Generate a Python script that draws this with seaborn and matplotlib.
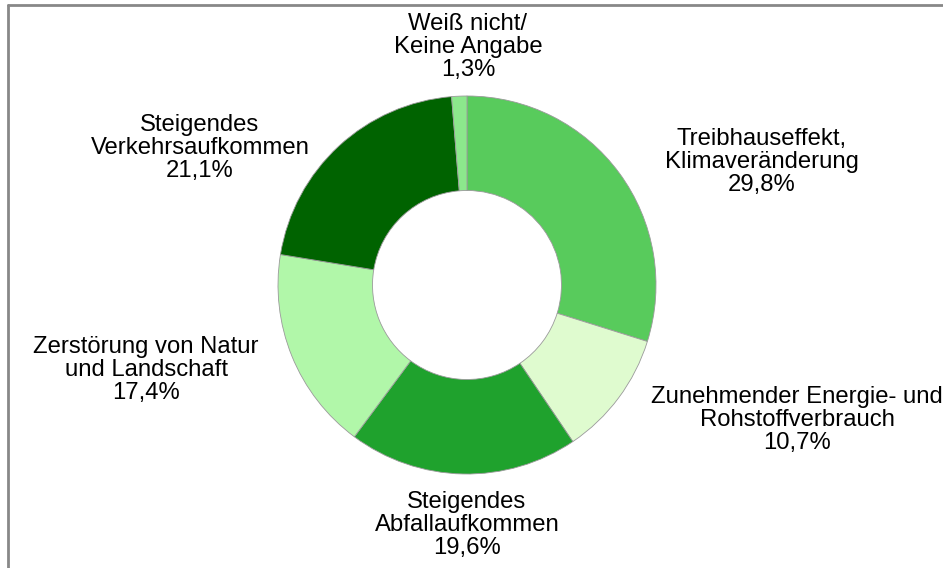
import matplotlib
matplotlib.use("Agg")
import matplotlib.pyplot as plt
import seaborn as sns
from matplotlib.lines import Line2D

# Data
labels = [
    "Treibhauseffekt,\nKlimaveränderung",
    "Zunehmender Energie- und\nRohstoffverbrauch",
    "Steigendes\nAbfallaufkommen",
    "Zerstörung von Natur\nund Landschaft",
    "Steigendes\nVerkehrsaufkommen",
    "Weiß nicht/\nKeine Angabe",
]
values = [29.8, 10.7, 19.6, 17.4, 21.1, 1.3]
colors = ["#58CB5C", "#DFFBCF", "#1FA22D", "#B1F7A9", "#006300", "#8CE88C"]

# label centres in pixels of the 943x568 image
label_px = [(762, 162), (797, 420), (467, 525), (146, 370), (200, 148), (468, 47)]

sns.set_theme(style="white")
plt.rcParams["font.family"] = ["Liberation Sans", "DejaVu Sans"]

W, H = 943, 568
cx, cy, r = 467, 285, 189

fig = plt.figure(figsize=(W / 100, H / 100), dpi=100)
ax = fig.add_axes([0, 0, 1, 1])
ax.pie(values, colors=colors, startangle=90, counterclock=False,
       radius=1, wedgeprops=dict(width=0.5, edgecolor="#9a9a9a", linewidth=0.6))
ax.set_xlim(-cx / r, (W - cx) / r)
ax.set_ylim(-(H - cy) / r, cy / r)
ax.set_aspect("equal")
ax.axis("off")

for lab, v, (px, py) in zip(labels, values, label_px):
    txt = lab + "\n" + f"{v:.1f}".replace(".", ",") + "%"
    ax.text((px - cx) / r, (cy - py) / r, txt, ha="center", va="center",
            fontsize=17.2, linespacing=1.08, color="black")

# gray frame (only left and top edges are visible)
fig.add_artist(Line2D([8 / W, 8 / W], [0, 1 - 5 / H], transform=fig.transFigure,
                      color="#888888", linewidth=2))
fig.add_artist(Line2D([8 / W, 1], [1 - 5 / H, 1 - 5 / H], transform=fig.transFigure,
                      color="#888888", linewidth=2))

fig.savefig("out.png", dpi=100)
